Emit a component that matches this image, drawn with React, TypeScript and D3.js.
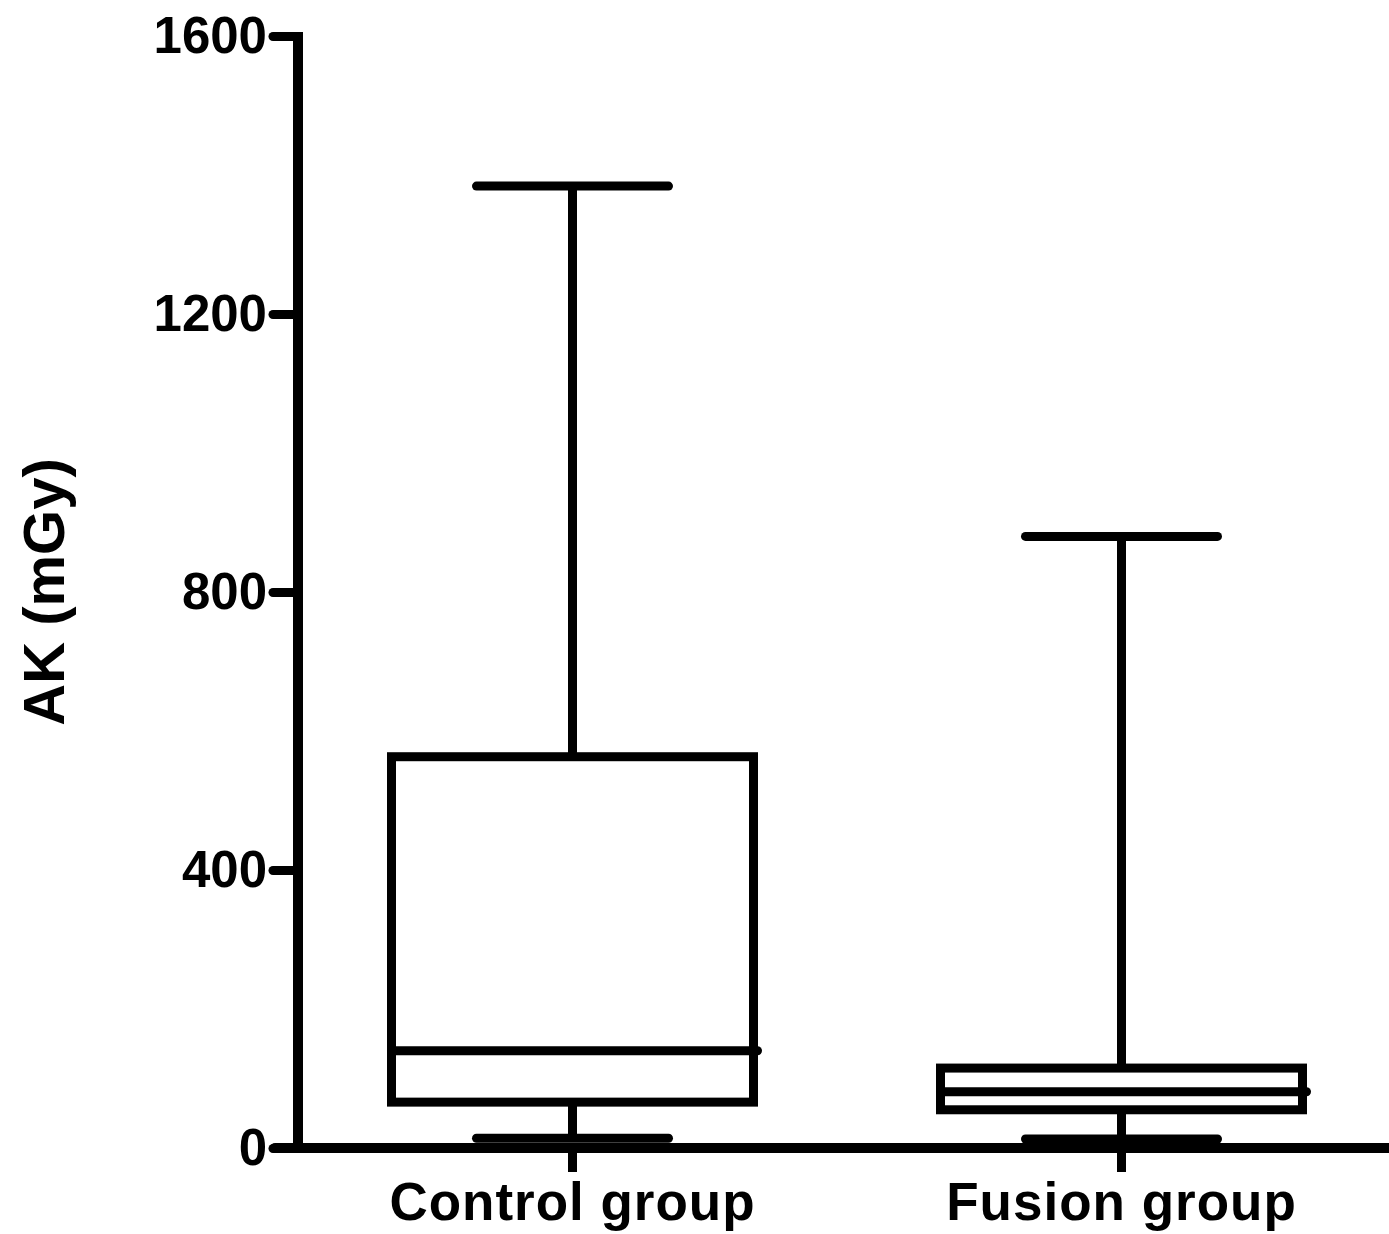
import React, { useEffect, useRef } from "react";
import * as d3 from "d3";

const groups = ["Control group", "Fusion group"];
const whiskerLow = [14, 13];
const q1 = [66, 55];
const medians = [140, 81];
const q3 = [563, 115];
const whiskerHigh = [1384, 880];
const yTicks = [0, 400, 800, 1200, 1600];

const App = () => {
  const svgRef = useRef(null);
  const width = 1389;
  const height = 1234;

  useEffect(() => {
    const svg = d3.select(svgRef.current).attr("width", width).attr("height", height);
    svg.selectAll("*").remove();

    const font = "'Liberation Sans', Arial, Helvetica, sans-serif";
    const lw = 9;

    const y = d3.scaleLinear().domain([0, 1600]).range([1148, 36]);
    const x = d3.scaleBand().domain(groups).range([298, 1396]).padding(0);

    const boxW = 362;
    const capW = 192;

    const data = groups.map((g, i) => ({
      g,
      lo: whiskerLow[i],
      q1: q1[i],
      med: medians[i],
      q3: q3[i],
      hi: whiskerHigh[i],
    }));

    const box = svg
      .append("g")
      .selectAll("g")
      .data(data)
      .enter()
      .append("g")
      .attr("transform", (d) => `translate(${x(d.g)! + x.bandwidth() / 2},0)`);

    // whiskers
    box
      .append("line")
      .attr("x1", 0)
      .attr("x2", 0)
      .attr("y1", (d) => y(d.hi))
      .attr("y2", (d) => y(d.q3))
      .attr("stroke", "#000")
      .attr("stroke-width", lw);
    box
      .append("line")
      .attr("x1", 0)
      .attr("x2", 0)
      .attr("y1", (d) => y(d.q1))
      .attr("y2", (d) => y(d.lo))
      .attr("stroke", "#000")
      .attr("stroke-width", lw);

    // caps
    ["hi", "lo"].forEach((k) => {
      box
        .append("line")
        .attr("x1", -capW / 2)
        .attr("x2", capW / 2)
        .attr("y1", (d: any) => y(d[k]))
        .attr("y2", (d: any) => y(d[k]))
        .attr("stroke", "#000")
        .attr("stroke-width", lw)
        .attr("stroke-linecap", "round");
    });

    // box
    box
      .append("rect")
      .attr("x", -boxW / 2)
      .attr("width", boxW)
      .attr("y", (d) => y(d.q3))
      .attr("height", (d) => y(d.q1) - y(d.q3))
      .attr("fill", "none")
      .attr("stroke", "#000")
      .attr("stroke-width", lw);

    // median
    box
      .append("line")
      .attr("x1", -boxW / 2)
      .attr("x2", boxW / 2 + 4)
      .attr("y1", (d) => y(d.med))
      .attr("y2", (d) => y(d.med))
      .attr("stroke", "#000")
      .attr("stroke-width", lw)
      .attr("stroke-linecap", "round");

    // y axis
    const yAxis = svg
      .append("g")
      .attr("transform", `translate(298,0)`)
      .call(
        d3
          .axisLeft(y)
          .tickValues(yTicks)
          .tickFormat(d3.format("d"))
          .tickSize(25)
          .tickPadding(6)
          .tickSizeOuter(0)
      );
    yAxis.select(".domain").remove();
    yAxis
      .append("line")
      .attr("x1", 0)
      .attr("x2", 0)
      .attr("y1", 32)
      .attr("y2", 1152)
      .attr("stroke", "#000")
      .attr("stroke-width", lw + 1);
    yAxis.selectAll(".tick line").attr("stroke-width", lw).attr("stroke-linecap", "round");
    yAxis
      .selectAll(".tick text")
      .attr("fill", "#000")
      .style("font-family", font)
      .style("font-weight", "bold")
      .style("font-size", "51px");

    // x axis
    const xAxis = svg
      .append("g")
      .attr("transform", `translate(0,1148)`)
      .call(d3.axisBottom(x).tickSize(24).tickPadding(10).tickSizeOuter(0));
    xAxis.select(".domain").remove();
    xAxis
      .append("line")
      .attr("x1", 275)
      .attr("x2", 1389)
      .attr("y1", 0)
      .attr("y2", 0)
      .attr("stroke", "#000")
      .attr("stroke-width", lw + 1)
      .attr("stroke-linecap", "round");
    xAxis.selectAll(".tick line").attr("stroke-width", lw);
    xAxis
      .selectAll(".tick text")
      .attr("fill", "#000")
      .style("font-family", font)
      .style("font-weight", "bold")
      .style("font-size", "53px")
      .style("letter-spacing", "1px");

    // y title
    svg
      .append("text")
      .attr("transform", `translate(64,592) rotate(-90)`)
      .attr("text-anchor", "middle")
      .style("font-family", font)
      .style("font-weight", "bold")
      .style("font-size", "58px")
      .text("AK (mGy)");
  }, []);

  return (
    <svg
      ref={svgRef}
      style={{ position: "absolute", left: 0, top: 0, display: "block", background: "#fff" }}
    ></svg>
  );
};

export default App;
